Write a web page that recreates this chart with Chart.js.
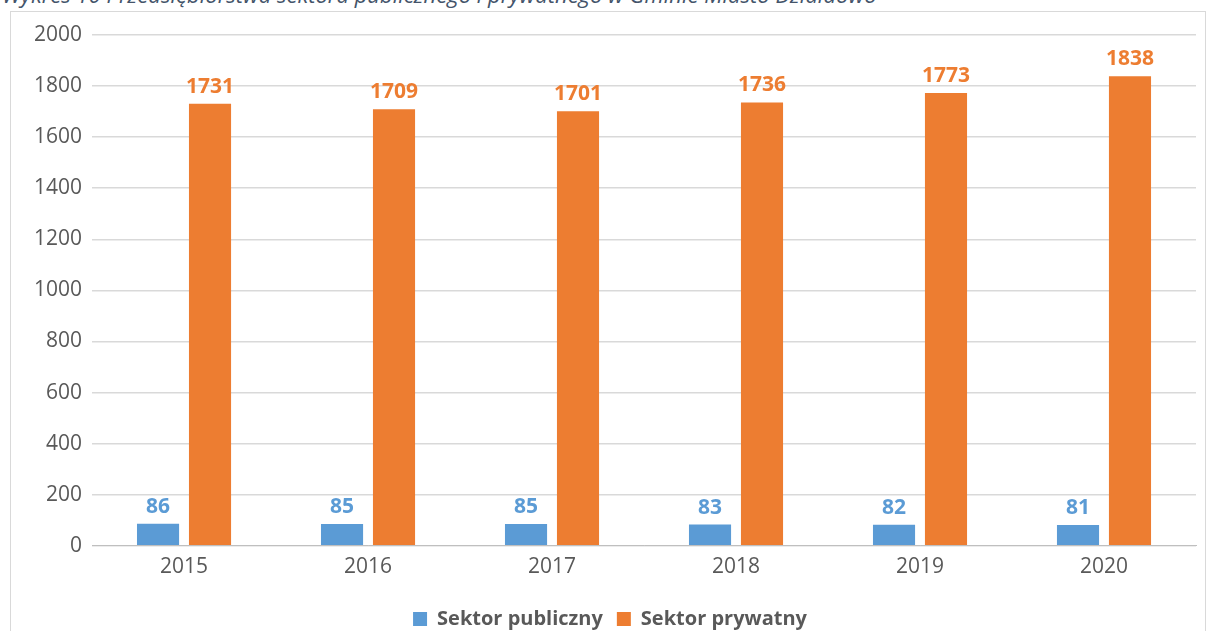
<!DOCTYPE html>
<html>
<head>
<meta charset="utf-8">
<script src="https://cdn.jsdelivr.net/npm/chart.js@4"></script>
<style>
  body { margin: 0; background: #fff; overflow: hidden; }
  #title {
    position: absolute; left: 2px; top: -21px;
    font-family: "Open Sans", sans-serif; font-style: italic;
    font-size: 22px; color: #44546a; white-space: nowrap;
  }
  #frame {
    position: absolute; left: 10px; top: 11px; width: 1194px; height: 700px;
    border: 1px solid #d9d9d9;
  }
  #wrap { position: absolute; left: 0; top: 0; width: 1208px; height: 631px; }
</style>
</head>
<body>
<div id="title">Wykres 10 Przedsiębiorstwa sektora publicznego i prywatnego w Gminie Miasto Działdowo</div>
<div id="frame"></div>
<div id="wrap"><canvas id="barChart" width="1208" height="631"></canvas></div>
<script>
const years = ["2015", "2016", "2017", "2018", "2019", "2020"];
const publicSector = [86, 85, 85, 83, 82, 81];
const privateSector = [1731, 1709, 1701, 1736, 1773, 1838];
const yTicks = [0, 200, 400, 600, 800, 1000, 1200, 1400, 1600, 1800, 2000];

const blue = "#5b9bd5";
const orange = "#ed7d31";
const font = "'Open Sans', sans-serif";

// draw value above every bar
const valueLabels = {
  id: "valueLabels",
  afterDatasetsDraw(chart) {
    const c = chart.ctx;
    c.save();
    c.font = "bold 21px " + font;
    c.textAlign = "center";
    c.textBaseline = "alphabetic";
    chart.data.datasets.forEach(function (ds, i) {
      const meta = chart.getDatasetMeta(i);
      c.fillStyle = ds.backgroundColor;
      meta.data.forEach(function (bar, j) {
        c.fillText(ds.data[j], bar.x, bar.y - 11);
      });
    });
    c.restore();
  }
};

let ctx = document.getElementById("barChart").getContext("2d");

let chart = new Chart(ctx, {
  type: "bar",
  data: {
    labels: years,
    datasets: [{
      label: "Sektor publiczny",
      data: publicSector,
      backgroundColor: blue,
      barPercentage: 0.81,
      categoryPercentage: 0.565
    }, {
      label: "Sektor prywatny",
      data: privateSector,
      backgroundColor: orange,
      barPercentage: 0.81,
      categoryPercentage: 0.565
    }]
  },
  options: {
    responsive: false,
    animation: false,
    layout: { padding: { top: 35, left: 24, right: 12, bottom: -8 } },
    plugins: {
      tooltip: { enabled: false },
      legend: {
        position: "bottom",
        labels: {
          boxWidth: 14, boxHeight: 14, padding: 14,
          color: "#595959",
          font: { family: font, size: 20, weight: "bold" }
        }
      }
    },
    scales: {
      x: {
        grid: { display: false },
        border: { color: "#bfbfbf" },
        ticks: { color: "#595959", font: { family: font, size: 21 }, padding: 1 },
        afterFit: function (axis) { axis.height += 14; }
      },
      y: {
        min: 0, max: 2000,
        afterBuildTicks: function (axis) { axis.ticks = yTicks.map(v => ({ value: v })); },
        grid: { color: "#d9d9d9", lineWidth: 1.5, drawTicks: false },
        border: { display: false },
        ticks: {
          color: "#595959", font: { family: font, size: 21 }, padding: 10,
          callback: function (v) { return String(v); }
        }
      }
    }
  },
  plugins: [valueLabels]
});
</script>
</body>
</html>
